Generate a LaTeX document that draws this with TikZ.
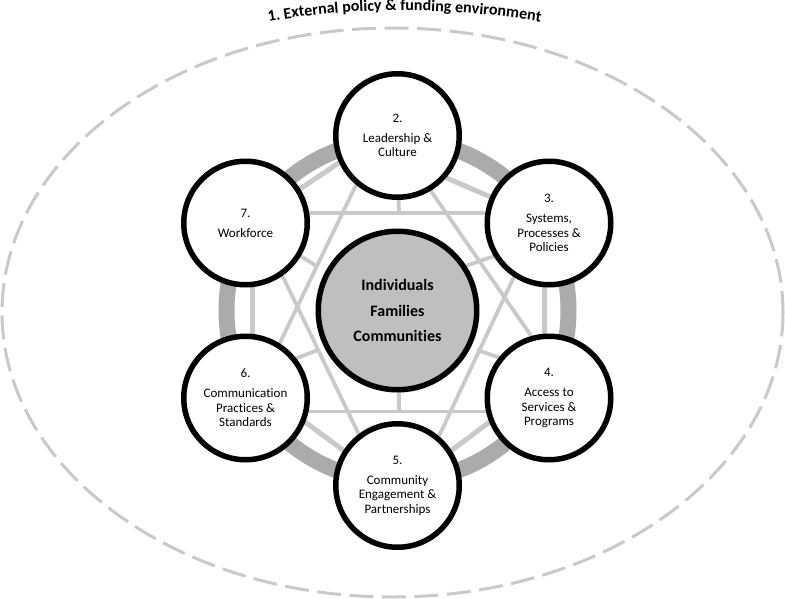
\documentclass[tikz,border=0pt]{standalone}
\usepackage{fontspec}
\setmainfont{Carlito}[RawFeature=-liga]
\usepackage{tikz}
\usetikzlibrary{shapes,shadows,backgrounds,decorations.text}

\definecolor{ringgray}{gray}{0.67}
\definecolor{webgray}{gray}{0.79}
\definecolor{hubgray}{gray}{0.75}

\tikzset{
    topic/.style={circle, draw=black, line width=5.5pt, fill=white, minimum size=123.5pt, inner sep=0pt, align=center,
        font=\fontsize{13}{14.5}\selectfont, circular drop shadow={shadow xshift=0pt, shadow yshift=-2pt, shadow scale=1.02, opacity=0.35}},
    hubnode/.style={topic, fill=hubgray, minimum size=158.5pt, font=\fontsize{16}{25.5}\selectfont\bfseries},
    starline/.style={draw=webgray, line width=3.8pt},
    hexline/.style={draw=webgray, line width=5pt},
}

\begin{document}
\begin{tikzpicture}[x=1pt,y=-1pt]
    \useasboundingbox (0,0) rectangle (785,599);

    % outer environment
    \draw[webgray, line width=3pt, dash pattern=on 24pt off 8.5pt] (392.5,312.5) ellipse (390.5 and 284.5);
    \path[decorate, decoration={text along path, text align=center,
        text={|\fontsize{16}{18}\selectfont\bfseries|1. External policy {\&} funding environment}}]
        (262,23) .. controls (350,6.3) and (450,6.3) .. (547,23);

    % ring behind the circles
    \draw[ringgray, line width=16pt] (397.5,310.5) circle (171);

    \node[hubnode] (hub) at (397.5,310.5) {Individuals\\Families\\Communities};
    \node[topic] (leader) at (397.5,135.5) {2.\\[5.5pt]Leadership \&\\Culture};
    \node[topic] (systems) at (549,223) {3.\\[5.5pt]Systems,\\Processes \&\\Policies};
    \node[topic] (access) at (549,398) {4.\\[5.5pt]Access to\\Services \&\\Programs};
    \node[topic] (community) at (397.5,485.5) {5.\\[5.5pt]Community\\Engagement \&\\Partnerships};
    \node[topic] (comms) at (245.5,398) {6.\\[5.5pt]Communication\\Practices \&\\Standards};
    \node[topic] (workforce) at (245.5,223) {7.\\[5.5pt]Workforce};

    \coordinate (topstub) at (399,213);
    \coordinate (botstub) at (399,411);
    \coordinate (workend) at (318,267);
    \coordinate (commsend) at (318,350);
    \coordinate (accessend) at (477,350);

    % web, kept behind the circles
    \begin{pgfonlayer}{background}
        \draw[hexline] (workforce.32) -- (leader.205);
        \draw[hexline] (leader.319) -- (systems.156);
        \draw[hexline] (systems.266) -- (access.94);
        \draw[hexline] (access.202) -- (community.33);
        \draw[hexline] (comms.338) -- (community.147);
        \draw[hexline] (workforce.276) -- (comms.84);

        \draw[starline] (leader.230) -- (comms.58);
        \draw[starline] (leader.301) -- (access.106);
        \draw[starline] (comms.348) -- (access.192);
        \draw[starline] (workforce.9) -- (systems.171);
        \draw[starline] (workforce.305) -- (community.127);
        \draw[starline] (systems.237) -- (community.50);

        \draw[starline] (leader.271) -- (topstub);
        \draw[starline] (hub.271) -- (botstub);
        \draw[starline] (workforce.329) -- (workend);
        \draw[starline] (systems.211) -- (hub.33);
        \draw[starline] (comms.38) -- (commsend);
        \draw[starline] (access.141) -- (accessend);
    \end{pgfonlayer}
\end{tikzpicture}
\end{document}
